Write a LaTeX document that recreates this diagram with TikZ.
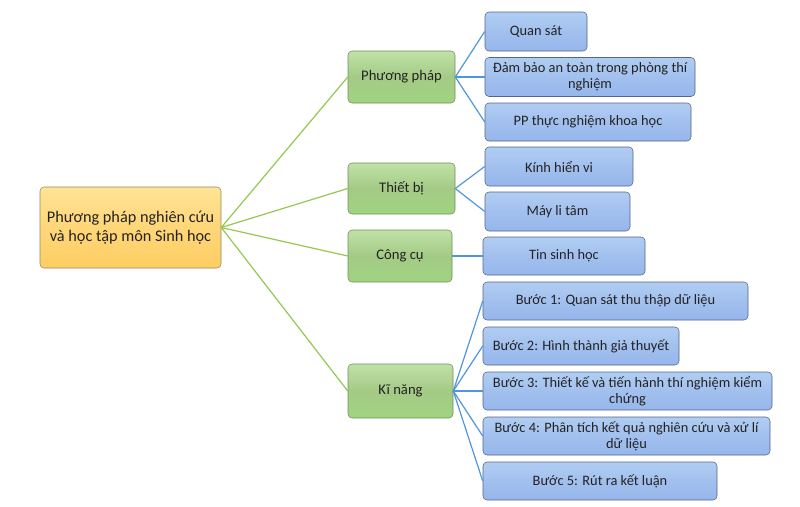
\documentclass[tikz,border=0pt]{standalone}
\usepackage{fontspec}
\setmainfont{Carlito}
\definecolor{gtop}{RGB}{192,226,166}
\definecolor{gmid}{RGB}{164,202,134}
\definecolor{gbot}{RGB}{160,212,128}
\definecolor{gdraw}{RGB}{110,145,90}
\definecolor{btop}{RGB}{176,206,242}
\definecolor{bmid}{RGB}{162,192,238}
\definecolor{bbot}{RGB}{150,182,236}
\definecolor{bdraw}{RGB}{85,100,135}
\definecolor{rtop}{RGB}{255,228,150}
\definecolor{rmid}{RGB}{255,214,120}
\definecolor{rbot}{RGB}{255,206,100}
\definecolor{rdraw}{RGB}{150,135,95}
\definecolor{gln}{RGB}{150,200,80}
\definecolor{bln}{RGB}{80,150,222}
\definecolor{txt}{RGB}{35,35,35}
\begin{document}
\begin{tikzpicture}[x=0.75pt,y=-0.75pt,
  box/.style={rounded corners=3pt, align=center, inner sep=1pt, font=\fontsize{10.8}{12}\selectfont, text=txt},
  rootbox/.style={box, draw=rdraw, top color=rtop, bottom color=rbot, middle color=rmid, font=\fontsize{12.2}{14.5}\selectfont},
  greenbox/.style={box, draw=gdraw, top color=gtop, bottom color=gbot, middle color=gmid, font=\fontsize{11}{12}\selectfont},
  bluebox/.style={box, draw=bdraw, top color=btop, bottom color=bbot, middle color=bmid},
  gline/.style={draw=gln, line width=0.9pt},
  bline/.style={draw=bln, line width=0.9pt}]
\useasboundingbox (0,0) rectangle (800,507);
\fill[white] (0,0) rectangle (800,507);
% root
\node[rootbox, minimum width=181*0.75pt, minimum height=81*0.75pt] (root) at (130.5,227.5) {Phương pháp nghiên cứu\\và học tập môn Sinh học};
% green
\node[greenbox, minimum width=107*0.75pt, minimum height=52*0.75pt] (g1) at (401.5,77) {Phương pháp};
\node[greenbox, minimum width=107*0.75pt, minimum height=51*0.75pt] (g2) at (401.5,188.5) {Thiết bị};
\node[greenbox, minimum width=104*0.75pt, minimum height=52*0.75pt] (g3) at (400,256) {Công cụ};
\node[greenbox, minimum width=105*0.75pt, minimum height=54*0.75pt] (g4) at (400.5,391) {Kĩ năng};
% blue
\node[bluebox, minimum width=102*0.75pt, minimum height=39*0.75pt] (b1) at (536,31.5) {Quan sát};
\node[bluebox, minimum width=210*0.75pt, minimum height=39*0.75pt] (b2) at (590,77) {Đảm bảo an toàn trong phòng thí\\nghiệm};
\node[bluebox, minimum width=206*0.75pt, minimum height=38*0.75pt] (b3) at (588,122) {PP thực nghiệm khoa học};
\node[bluebox, minimum width=148*0.75pt, minimum height=39*0.75pt] (b4) at (559,166.5) {Kính hiển vi};
\node[bluebox, minimum width=145*0.75pt, minimum height=39*0.75pt] (b5) at (557.5,211.5) {Máy li tâm};
\node[bluebox, minimum width=162*0.75pt, minimum height=38*0.75pt] (b6) at (564,256) {Tin sinh học};
\node[bluebox, minimum width=265*0.75pt, minimum height=38*0.75pt] (k1) at (615.5,301) {Bước 1: Quan sát thu thập dữ liệu};
\node[bluebox, minimum width=196*0.75pt, minimum height=38*0.75pt] (k2) at (581,346) {Bước 2: Hình thành giả thuyết};
\node[bluebox, minimum width=289*0.75pt, minimum height=38*0.75pt] (k3) at (627.5,391) {Bước 3: Thiết kế và tiến hành thí nghiệm kiểm\\chứng};
\node[bluebox, minimum width=287*0.75pt, minimum height=38*0.75pt] (k4) at (626.5,436) {Bước 4: Phân tích kết quả nghiên cứu và xử lí\\dữ liệu};
\node[bluebox, minimum width=234*0.75pt, minimum height=38*0.75pt] (k5) at (600,481) {Bước 5: Rút ra kết luận};
% connectors
\foreach \g in {g1,g2,g3,g4} \draw[gline] (root.east) -- (\g.west);
\foreach \b in {b1,b2,b3} \draw[bline] (g1.east) -- (\b.west);
\foreach \b in {b4,b5} \draw[bline] (g2.east) -- (\b.west);
\draw[bline] (g3.east) -- (b6.west);
\foreach \b in {k1,k2,k3,k4,k5} \draw[bline] (g4.east) -- (\b.west);
\end{tikzpicture}
\end{document}
